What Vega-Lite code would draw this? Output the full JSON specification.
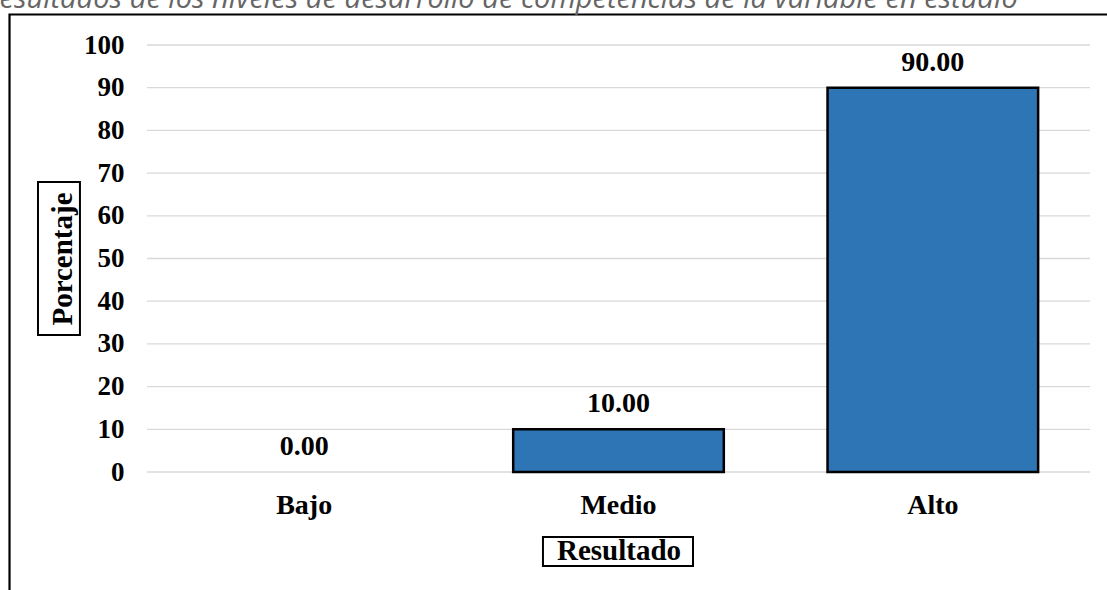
{
  "$schema": "https://vega.github.io/schema/vega-lite/v6.json",
  "width": 943,
  "height": 427,
  "autosize": {"type": "none"},
  "padding": {"left": 147, "top": 45, "right": 17, "bottom": 118},
  "background": "white",
  "title": {
    "text": "Resultados de los niveles de desarrollo de competencias de la variable en estudio",
    "anchor": "start",
    "frame": "group",
    "dx": -164,
    "offset": -1,
    "font": "Open Sans",
    "fontStyle": "italic",
    "fontWeight": "normal",
    "fontSize": 29,
    "color": "#666666"
  },
  "datasets": {
    "resultados": [
      {"Resultado": "Bajo", "Porcentaje": 0},
      {"Resultado": "Medio", "Porcentaje": 10},
      {"Resultado": "Alto", "Porcentaje": 90}
    ],
    "cuadricula": [
      {"Porcentaje": 0}, {"Porcentaje": 10}, {"Porcentaje": 20}, {"Porcentaje": 30},
      {"Porcentaje": 40}, {"Porcentaje": 50}, {"Porcentaje": 60}, {"Porcentaje": 70},
      {"Porcentaje": 80}, {"Porcentaje": 90}, {"Porcentaje": 100}
    ]
  },
  "data": {"name": "resultados"},
  "layer": [
    {
      "data": {"values": [{"box": "marco"}]},
      "layer": [
        {
          "mark": {"type": "rect", "fill": "white", "fillOpacity": 0, "stroke": "black", "strokeWidth": 2.2},
          "encoding": {
            "x": {"datum": -0.1458, "type": "quantitative", "scale": {"domain": [0, 1], "nice": false, "zero": false}, "axis": null},
            "x2": {"datum": 1.04},
            "y": {"datum": 107.14, "type": "quantitative"},
            "y2": {"datum": -35}
          }
        },
        {
          "mark": {"type": "rect", "fill": "white", "fillOpacity": 0, "stroke": "black", "strokeWidth": 2},
          "encoding": {
            "x": {"datum": -0.1156, "type": "quantitative", "axis": null},
            "x2": {"datum": -0.0711},
            "y": {"datum": 67.92, "type": "quantitative"},
            "y2": {"datum": 32.08}
          }
        },
        {
          "mark": {"type": "rect", "fill": "white", "fillOpacity": 0, "stroke": "black", "strokeWidth": 2},
          "encoding": {
            "x": {"datum": 0.4199, "type": "quantitative", "axis": null},
            "x2": {"datum": 0.579},
            "y": {"datum": -15.22, "type": "quantitative"},
            "y2": {"datum": -22.01}
          }
        }
      ]
    },
    {
      "data": {"name": "cuadricula"},
      "mark": {"type": "rule", "color": "#D9D9D9", "strokeWidth": 1.3},
      "encoding": {
        "y": {"field": "Porcentaje", "type": "quantitative", "title": "Porcentaje"}
      }
    },
    {
      "encoding": {
        "x": {
          "field": "Resultado",
          "type": "nominal",
          "sort": ["Bajo", "Medio", "Alto"],
          "scale": {"paddingInner": 0.33, "paddingOuter": 0.165},
          "axis": {
            "labelAngle": 0,
            "domain": false,
            "ticks": false,
            "labelPadding": 19,
            "labelFont": "Liberation Serif",
            "labelFontWeight": "bold",
            "labelFontSize": 28,
            "labelColor": "black",
            "title": "Resultado",
            "titleFont": "Liberation Serif",
            "titleFontWeight": "bold",
            "titleFontSize": 29,
            "titleColor": "black",
            "titlePadding": 17
          }
        },
        "y": {
          "field": "Porcentaje",
          "type": "quantitative",
          "title": "Porcentaje",
          "scale": {"domain": [0, 100]},
          "axis": {
            "values": [0, 10, 20, 30, 40, 50, 60, 70, 80, 90, 100],
            "domain": false,
            "ticks": false,
            "grid": false,
            "labelPadding": 23,
            "labelFont": "Liberation Serif",
            "labelFontWeight": "bold",
            "labelFontSize": 27,
            "labelColor": "black",
            "title": "Porcentaje",
            "titleFont": "Liberation Serif",
            "titleFontWeight": "bold",
            "titleFontSize": 29,
            "titleColor": "black",
            "titlePadding": 6
          }
        }
      },
      "layer": [
        {
          "mark": {"type": "bar", "fill": "#2E75B6", "stroke": "black", "strokeWidth": 2.5},
          "encoding": {
            "strokeOpacity": {"condition": {"test": "datum.Porcentaje == 0", "value": 0}, "value": 1}
          }
        },
        {
          "mark": {
            "type": "text",
            "baseline": "alphabetic",
            "dy": -17,
            "font": "Liberation Serif",
            "fontWeight": "bold",
            "fontSize": 28,
            "color": "black"
          },
          "encoding": {
            "text": {"field": "Porcentaje", "type": "quantitative", "format": ".2f"}
          }
        }
      ]
    }
  ],
  "resolve": {"scale": {"x": "independent"}, "axis": {"x": "independent"}},
  "config": {"view": {"stroke": null}}
}
